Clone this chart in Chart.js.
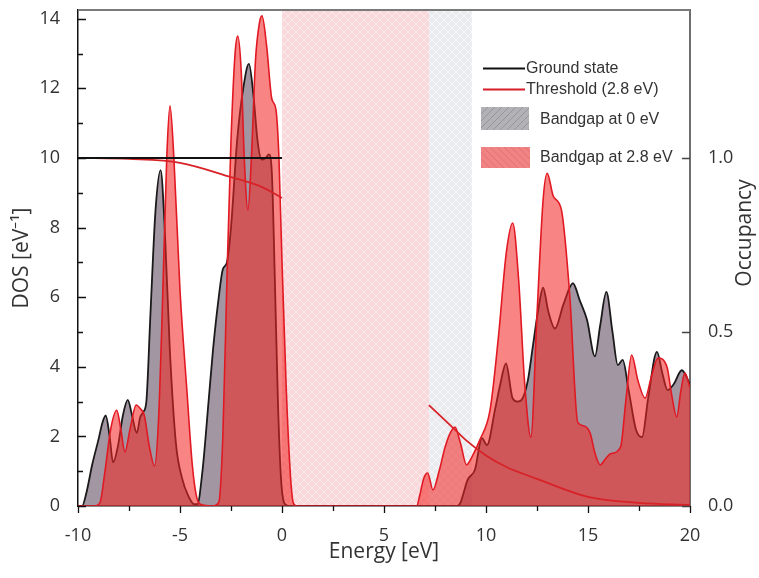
<!doctype html>
<html>
<head>
<meta charset="utf-8" />
<title>DOS ground state vs threshold</title>
<script src="https://cdn.jsdelivr.net/npm/chart.js@4.4.1/dist/chart.umd.min.js"></script>
<style>
html, body { margin:0; padding:0; background:#fff; }
#wrap { width:759px; height:578px; position:relative; }
</style>
</head>
<body>
<div id="wrap"><canvas id="chart1"></canvas></div>
<script>
// ground state DOS (eV, 1/eV)
var gsEnergy = [-10, -9.8, -9.6, -9.3, -9.0, -8.8, -8.64, -8.45, -8.28, -8.05, -7.8, -7.56, -7.35, -7.12, -6.95, -6.8, -6.65, -6.45, -6.2, -5.95, -5.75, -5.5, -5.2, -4.9, -4.6, -4.3, -4.15, -3.9, -3.6, -3.38, -3.1, -2.9, -2.7, -2.5, -2.2, -1.9, -1.62, -1.4, -1.2, -1.0, -0.8, -0.64, -0.5, -0.35, -0.2, -0.05, 0.1, 0.3,
  8.6, 8.75, 9.1, 9.46, 9.8, 10.05, 10.44, 10.7, 10.98, 11.3, 11.55, 11.8, 12.05, 12.3, 12.55, 12.8, 13.05, 13.38, 13.8, 14.26, 14.6, 14.95, 15.34, 15.6, 15.9, 16.2, 16.46, 16.7, 17.0, 17.35, 17.65, 17.95, 18.38, 18.65, 18.9, 19.2, 19.6, 20];
var gsDos = [0, 0, 0.35, 1.2, 1.9, 2.4, 2.6, 2.0, 1.25, 1.7, 2.6, 3.05, 2.6, 2.1, 2.55, 2.7, 3.0, 5.5, 8.5, 9.65, 8.0, 4.5, 1.8, 0.8, 0.3, 0.05, 0.05, 1.0, 3.0, 4.5, 6.0, 6.8, 7.0, 8.0, 10.5, 12.0, 12.7, 11.8, 10.5, 9.95, 10.0, 10.1, 9.6, 6.5, 3.0, 0.8, 0.1, 0,
  0, 0.1, 0.75, 1.05, 1.95, 1.75, 2.76, 3.5, 4.1, 3.1, 3.0, 3.1, 3.6, 4.6, 5.6, 6.27, 5.6, 5.1, 5.8, 6.4, 5.9, 5.35, 4.3, 5.2, 6.15, 5.0, 4.05, 4.2, 3.3, 2.2, 1.98, 3.1, 4.43, 3.8, 3.33, 3.5, 3.9, 3.5];

// threshold (2.8 eV) DOS
var thEnergy = [-10, -9.2, -8.92, -8.7, -8.4, -8.1, -7.9, -7.7, -7.45, -7.15, -6.95, -6.75, -6.5, -6.25, -6.05, -5.85, -5.65, -5.49, -5.3, -5.0, -4.66, -4.4, -4.2, -4.0, -3.4, -3.1, -2.9, -2.7, -2.5, -2.3, -2.17, -2.0, -1.85, -1.67, -1.5, -1.3, -1.1, -0.98, -0.75, -0.5, -0.3, -0.15, 0.0, 0.2, 0.4, 0.55, 0.7,
  6.6, 6.75, 6.95, 7.14, 7.4, 7.7, 8.0, 8.25, 8.48, 8.75, 9.05, 9.3, 9.7, 10.2, 10.6, 11.0, 11.31, 11.6, 11.9, 12.2, 12.5, 12.8, 13.0, 13.3, 13.7, 14.1, 14.5, 14.8, 15.1, 15.35, 15.6, 15.85, 16.1, 16.6, 16.85, 17.14, 17.45, 17.8, 18.1, 18.43, 18.87, 19.1, 19.35, 19.55, 19.75, 20];
var thDos = [0, 0, 0.1, 0.9, 2.2, 2.75, 2.2, 1.55, 2.2, 2.9, 2.8, 2.6, 1.7, 1.15, 2.5, 6.0, 10.0, 11.5, 10.0, 6.2, 3.3, 1.2, 0.3, 0.05, 0, 0.1, 2.0, 6.5, 10.5, 13.0, 13.5, 12.5, 10.0, 8.5, 10.0, 12.8, 13.9, 14.08, 13.2, 11.7, 11.4, 10.0, 7.0, 3.5, 1.0, 0.1, 0,
  0, 0.3, 0.8, 0.95, 0.46, 1.0, 1.7, 2.1, 2.27, 1.8, 1.18, 1.4, 1.9, 2.76, 4.8, 7.3, 8.13, 6.5, 3.5, 1.98, 5.5, 8.8, 9.56, 8.9, 8.5, 6.1, 2.4, 2.3, 2.1, 1.5, 1.18, 1.35, 1.5, 1.7, 3.0, 4.34, 3.6, 3.1, 3.7, 4.25, 4.0, 3.2, 2.56, 3.3, 3.82, 3.4];

// occupancy (right axis)
var gsOccEnergy = [-10, 0];
var gsOcc = [1.0, 1.0];
var thOccValEnergy = [-10, -7.5, -5, -2.5, -1, 0];
var thOccVal = [1.0, 0.997, 0.986, 0.945, 0.917, 0.885];
var thOccConEnergy = [7.2, 8.5, 9.0, 10, 11, 12.5, 15, 17.5, 20];
var thOccCon = [0.29, 0.218, 0.19, 0.145, 0.112, 0.078, 0.026, 0.009, 0.003];

// band gaps (eV)
var gapGround = [0, 9.3];
var gapThreshold = [0, 7.2];

function pts(xs, ys) {
  return xs.map(function(e, i) { return {x: e, y: ys[i]}; });
}

function hatch(bg, line, size, cross, back) {
  var c = document.createElement('canvas');
  c.width = size; c.height = size;
  var g = c.getContext('2d');
  g.fillStyle = bg; g.fillRect(0, 0, size, size);
  g.strokeStyle = line; g.lineWidth = 1;
  g.beginPath();
  if (cross || !back) { g.moveTo(0, size); g.lineTo(size, 0); }
  if (cross || back) { g.moveTo(0, 0); g.lineTo(size, size); }
  g.stroke();
  return g.createPattern(c, 'repeat');
}

var bands = {
  id: 'bands',
  beforeDraw: function(chart) {
    var ctx = chart.ctx, a = chart.chartArea, x = chart.scales.x;
    ctx.save();
    var x0 = x.getPixelForValue(gapGround[0]), x1 = x.getPixelForValue(gapGround[1]);
    ctx.fillStyle = hatch('rgb(234,235,239)', 'rgba(255,255,255,0.6)', 8, true);
    ctx.fillRect(x0, a.top, x1 - x0, a.bottom - a.top);
    x0 = x.getPixelForValue(gapThreshold[0]); x1 = x.getPixelForValue(gapThreshold[1]);
    ctx.fillStyle = hatch('rgb(248,216,219)', 'rgba(255,255,255,0.45)', 8, true);
    ctx.fillRect(x0, a.top, x1 - x0, a.bottom - a.top);
    ctx.restore();
  }
};

var tickMarks = {
  id: 'tickMarks',
  afterDraw: function(chart) {
    var ctx = chart.ctx, a = chart.chartArea, s = chart.scales;
    ctx.save();
    ctx.lineWidth = 1.3;
    ctx.strokeStyle = '#111';
    ctx.beginPath();
    s.x.ticks.forEach(function(t) {
      var px = Math.round(s.x.getPixelForValue(t.value)) + 0.5;
      var len = (t.value % 5 === 0) ? 7 : 5;
      ctx.moveTo(px, a.bottom); ctx.lineTo(px, a.bottom + len);
    });
    s.y.ticks.forEach(function(t) {
      var py = Math.round(s.y.getPixelForValue(t.value)) + 0.5;
      var len = (t.value % 2 === 0) ? 8 : 5;
      ctx.moveTo(a.left, py); ctx.lineTo(a.left + len, py);
    });
    ctx.stroke();
    ctx.strokeStyle = '#444';
    ctx.beginPath();
    s.y1.ticks.forEach(function(t) {
      var py = Math.round(s.y1.getPixelForValue(t.value)) + 0.5;
      ctx.moveTo(a.right, py); ctx.lineTo(a.right - 8, py);
    });
    ctx.stroke();
    // top frame
    ctx.lineWidth = 2;
    ctx.strokeStyle = '#7a7a7a';
    ctx.beginPath();
    ctx.moveTo(a.left, a.top); ctx.lineTo(a.right, a.top);
    ctx.stroke();
    // right axis title, reading upwards like the left one
    ctx.fillStyle = '#333';
    ctx.font = '21px "Open Sans", sans-serif';
    ctx.textAlign = 'center';
    ctx.textBaseline = 'middle';
    ctx.translate(745, 233);
    ctx.rotate(-Math.PI / 2);
    ctx.fillText('Occupancy', 0, 0);
    ctx.restore();
  }
};

var legendBox = {
  id: 'legendBox',
  afterDraw: function(chart) {
    var ctx = chart.ctx;
    ctx.save();
    ctx.font = '16px "Liberation Sans", Arial, sans-serif';
    ctx.fillStyle = '#333';
    ctx.textBaseline = 'middle';
    ctx.lineWidth = 2;
    ctx.strokeStyle = '#111';
    ctx.beginPath(); ctx.moveTo(483, 68.5); ctx.lineTo(525, 68.5); ctx.stroke();
    ctx.fillText('Ground state', 526, 69);
    ctx.strokeStyle = 'rgb(215,30,40)';
    ctx.beginPath(); ctx.moveTo(483, 89.5); ctx.lineTo(525, 89.5); ctx.stroke();
    ctx.fillText('Threshold (2.8 eV)', 526, 90);
    ctx.fillStyle = hatch('rgb(178,178,182)', 'rgb(150,150,156)', 7, false, false);
    ctx.fillRect(481, 107, 48, 23);
    ctx.fillStyle = hatch('rgb(240,132,132)', 'rgb(228,112,112)', 7, false, true);
    ctx.fillRect(481, 147, 49, 21);
    ctx.fillStyle = '#333';
    ctx.fillText('Bandgap at 0 eV', 540, 120);
    ctx.fillText('Bandgap at 2.8 eV', 540, 158);
    ctx.restore();
  }
};

var tickFont = { family: '"Open Sans", sans-serif', size: 18 };
var titleFont = { family: '"Open Sans", sans-serif', size: 21 };

var chart1 = new Chart('chart1', {
  type: 'line',
  data: {
    datasets: [{
      label: 'Ground state occupancy',
      data: pts(gsOccEnergy, gsOcc),
      yAxisID: 'y1',
      borderColor: '#111',
      borderWidth: 2,
      pointRadius: 0,
      fill: false
    }, {
      label: 'Threshold occupancy (valence)',
      data: pts(thOccValEnergy, thOccVal),
      yAxisID: 'y1',
      borderColor: 'rgb(215,35,40)',
      borderWidth: 1.8,
      pointRadius: 0,
      cubicInterpolationMode: 'monotone',
      tension: 0.4,
      fill: false
    }, {
      label: 'Threshold occupancy (conduction)',
      data: pts(thOccConEnergy, thOccCon),
      yAxisID: 'y1',
      borderColor: 'rgb(215,35,40)',
      borderWidth: 1.8,
      pointRadius: 0,
      cubicInterpolationMode: 'monotone',
      tension: 0.4,
      fill: false
    }, {
      label: 'Threshold (2.8 eV)',
      data: pts(thEnergy, thDos),
      yAxisID: 'y',
      borderColor: 'rgb(225,25,35)',
      borderWidth: 1.6,
      backgroundColor: 'rgba(242,38,34,0.56)',
      pointRadius: 0,
      cubicInterpolationMode: 'monotone',
      tension: 0.4,
      fill: 'origin'
    }, {
      label: 'Ground state',
      data: pts(gsEnergy, gsDos),
      yAxisID: 'y',
      borderColor: '#1a1a1a',
      borderWidth: 1.8,
      backgroundColor: 'rgba(105,85,105,0.62)',
      pointRadius: 0,
      cubicInterpolationMode: 'monotone',
      tension: 0.4,
      fill: 'origin'
    }]
  },
  options: {
    responsive: true,
    maintainAspectRatio: false,
    animation: false,
    layout: { padding: { top: 10, left: 0, right: 0, bottom: 0 } },
    plugins: { legend: { display: false }, tooltip: { enabled: false } },
    scales: {
      x: {
        type: 'linear', min: -10, max: 20,
        grid: { display: false },
        border: { display: true, color: '#111', width: 1.5 },
        ticks: {
          stepSize: 2.5, includeBounds: false, padding: 11, maxRotation: 0, autoSkip: false,
          color: '#333', font: tickFont,
          callback: function(v) { return v % 5 === 0 ? String(v) : ''; }
        },
        title: { display: true, text: 'Energy [eV]', color: '#333', font: titleFont, padding: { top: 0, bottom: 13 } },
        afterFit: function(s) { s.height = 72; s.paddingLeft = 0; s.paddingRight = 0; }
      },
      y: {
        type: 'linear', position: 'left', min: 0, max: 14.25,
        grid: { display: false },
        border: { display: true, color: '#111', width: 1.5 },
        ticks: {
          stepSize: 1, includeBounds: false, padding: 10, autoSkip: false,
          color: '#333', font: tickFont,
          callback: function(v) { return v % 2 === 0 ? String(v) : ''; }
        },
        title: { display: true, text: 'DOS [eV\u207B\u00B9]', color: '#333', font: titleFont, padding: { top: 9, bottom: 0 } },
        afterFit: function(s) { s.width = 78; s.paddingTop = 0; s.paddingBottom = 0; }
      },
      y1: {
        type: 'linear', position: 'right', min: 0, max: 1.425,
        grid: { display: false },
        border: { display: true, color: '#6e6e6e', width: 2 },
        ticks: {
          stepSize: 0.5, includeBounds: false, padding: 10, autoSkip: false,
          color: '#333', font: tickFont,
          callback: function(v) { return v.toFixed(1); }
        },
        title: { display: false },
        afterFit: function(s) { s.width = 69; s.paddingTop = 0; s.paddingBottom = 0; }
      }
    }
  },
  plugins: [bands, tickMarks, legendBox]
});
</script>
</body>
</html>
